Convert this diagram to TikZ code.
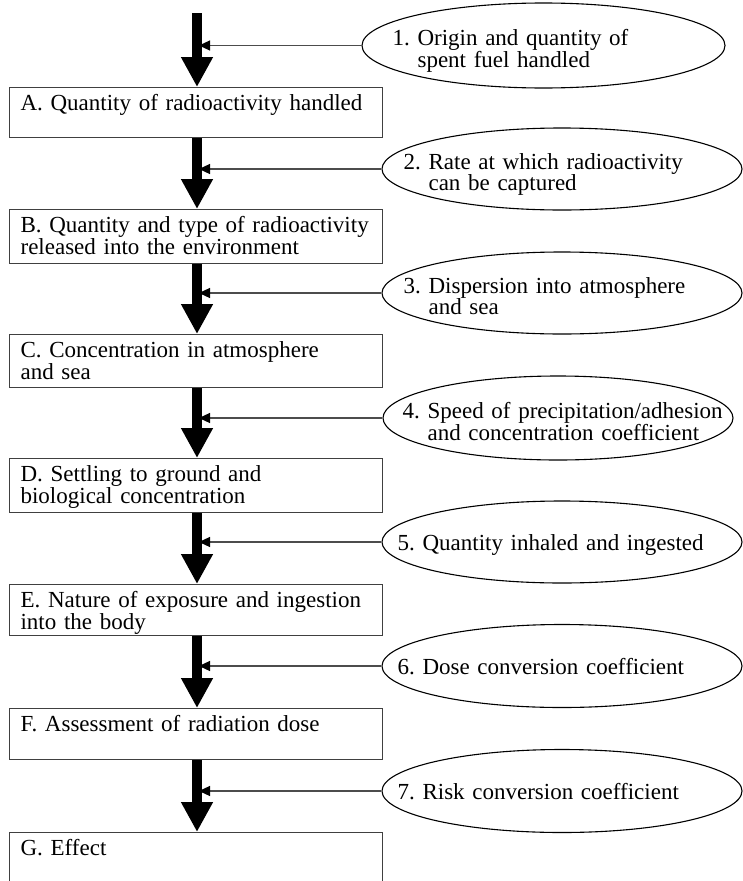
\documentclass[tikz,border=0pt]{standalone}
\usepackage{fontspec}
\setmainfont{Liberation Serif}
\usepackage{tikz}
\usetikzlibrary{arrows.meta,shapes.geometric}
\frenchspacing

\begin{document}
\begin{tikzpicture}[x=1pt,y=-1pt,
	stage/.style={draw=black!75,line width=1.2pt,anchor=north west,
		minimum width=373pt,text width=351pt,inner xsep=11pt,inner ysep=8pt,
		text height=15pt,align=left,font=\fontsize{23}{19}\selectfont},
	factor/.style={draw,ellipse,line width=1.1pt,inner sep=0pt},
	factortext/.style={anchor=base west,inner sep=0pt,text width=340pt,
		align=left,font=\fontsize{23}{18}\selectfont},
	flow/.style={line width=10pt,-{Triangle[length=30pt,width=30pt]}},
	feed/.style={draw=black!70,line width=1.2pt,
		-{Triangle[length=11pt,width=10pt,color=black]}}]

	\useasboundingbox (0,0) rectangle (743,881);
	%\draw[gray,step=50] (0,0) grid (743,881);

	\coordinate (top) at (197,13);

	% stages
	\node [stage,text depth=19pt] (qa) at (9,87) {A. Quantity of radioactivity handled};
	\node [stage,text depth=23pt] (qb) at (9,209) {B. Quantity and type of radioactivity\\released into the environment};
	\node [stage,text depth=22pt] (qc) at (9,334) {C. Concentration in atmosphere\\and sea};
	\node [stage,text depth=23pt] (qd) at (9,458) {D. Settling to ground and\\biological concentration};
	\node [stage,text depth=20pt] (qe) at (9,584) {E. Nature of exposure and ingestion\\into the body};
	\node [stage,text depth=20pt] (qf) at (9,708) {F. Assessment of radiation dose};
	\node [stage,text depth=19pt] (qg) at (9,832) {G. Effect};

	% factors
	\node [factor,minimum width=363pt,minimum height=85pt] (f1) at (543.5,45.5) {};
	\node [factortext] (t1) at ([xshift=31pt]f1.west) {1. Origin and quantity of\\\hphantom{1. }spent fuel handled};
	\node [factor,minimum width=360pt,minimum height=82pt] (f2) at (562,169) {};
	\node [factortext] (t2) at ([xshift=22pt]f2.west) {2. Rate at which radioactivity\\\hphantom{2. }can be captured};
	\node [factor,minimum width=360pt,minimum height=82pt] (f3) at (562,293) {};
	\node [factortext] (t3) at ([xshift=22pt]f3.west) {3. Dispersion into atmosphere\\\hphantom{3. }and sea};
	\node [factor,minimum width=350pt,minimum height=84pt] (f4) at (558,418) {};
	\node [factortext] (t4) at ([xshift=20pt]f4.west) {4. Speed of precipitation/adhesion\\\hphantom{4. }and concentration coefficient};
	\node [factor,minimum width=360pt,minimum height=82pt] (f5) at (562,542) {};
	\node [factortext] (t5) at ([xshift=16pt,yshift=-8pt]f5.west) {5. Quantity inhaled and ingested};
	\node [factor,minimum width=360pt,minimum height=83pt] (f6) at (562,666) {};
	\node [factortext] (t6) at ([xshift=16pt,yshift=-8pt]f6.west) {6. Dose conversion coefficient};
	\node [factor,minimum width=360pt,minimum height=83pt] (f7) at (562,791) {};
	\node [factortext] (t7) at ([xshift=16pt,yshift=-8pt]f7.west) {7. Risk conversion coefficient};

	% side inputs
	\draw[feed] (f1.west) -- ([xshift=2pt]f1.west -| top);
	\draw[feed] (f2.west) -- ([xshift=2pt]f2.west -| top);
	\draw[feed] (f3.west) -- ([xshift=2pt]f3.west -| top);
	\draw[feed] (f4.west) -- ([xshift=2pt]f4.west -| top);
	\draw[feed] (f5.west) -- ([xshift=2pt]f5.west -| top);
	\draw[feed] (f6.west) -- ([xshift=2pt]f6.west -| top);
	\draw[feed] (f7.west) -- ([xshift=2pt]f7.west -| top);

	% main chain
	\draw[flow] (top) -- (qa.north -| top);
	\draw[flow] (qa.south -| top) -- (qb.north -| top);
	\draw[flow] (qb.south -| top) -- (qc.north -| top);
	\draw[flow] (qc.south -| top) -- (qd.north -| top);
	\draw[flow] (qd.south -| top) -- (qe.north -| top);
	\draw[flow] (qe.south -| top) -- (qf.north -| top);
	\draw[flow] (qf.south -| top) -- (qg.north -| top);
\end{tikzpicture}
\end{document}
